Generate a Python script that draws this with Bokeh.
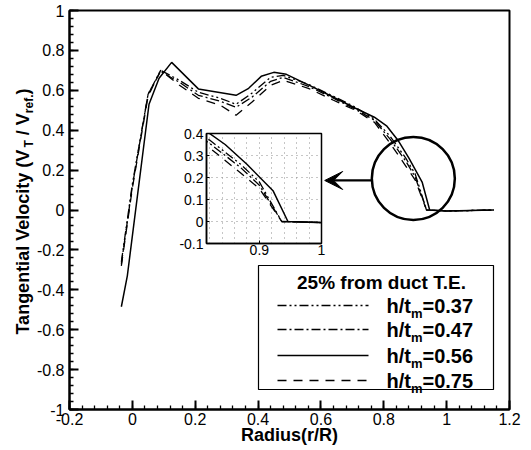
import math
from bokeh.plotting import figure
from bokeh.models import (FixedTicker, Label, Arrow, VeeHead, BoxAnnotation,
                          GridBox, Range1d)
from bokeh.embed import file_html
from bokeh.resources import INLINE

FONT = "Liberation Sans"
W, H = 531, 450

# Radial stations (r/R) and tangential velocity (V_T / V_ref.) 25% from duct T.E.
r_056 = [-0.035, -0.016, 0.053, 0.085, 0.125, 0.21, 0.33, 0.37, 0.41, 0.45, 0.49,
         0.57, 0.64, 0.71, 0.77, 0.81, 0.845, 0.88, 0.922, 0.946, 1.0, 1.15]
vt_056 = [-0.485, -0.33, 0.53, 0.66, 0.74, 0.607, 0.575, 0.61, 0.67, 0.69, 0.68,
          0.62, 0.565, 0.51, 0.465, 0.42, 0.35, 0.26, 0.14, 0.0, -0.005, 0.0]

r_other = [-0.035, 0.0, 0.05, 0.09, 0.15, 0.21, 0.28, 0.33, 0.38, 0.44, 0.48,
           0.56, 0.64, 0.71, 0.77, 0.82, 0.87, 0.9, 0.936, 1.0, 1.15]
vt_037 = [-0.26, 0.13, 0.58, 0.70, 0.65, 0.59, 0.56, 0.53, 0.585, 0.665, 0.675,
          0.63, 0.57, 0.515, 0.455, 0.37, 0.26, 0.18, 0.0, -0.005, 0.0]
vt_047 = [-0.27, 0.12, 0.58, 0.695, 0.64, 0.575, 0.545, 0.515, 0.565, 0.645, 0.665,
          0.62, 0.56, 0.505, 0.45, 0.355, 0.245, 0.165, 0.0, -0.005, 0.0]
vt_075 = [-0.28, 0.11, 0.57, 0.70, 0.625, 0.56, 0.525, 0.475, 0.54, 0.625, 0.65,
          0.61, 0.55, 0.50, 0.44, 0.335, 0.22, 0.15, 0.0, -0.005, 0.0]

ratio_labels = ["0.37", "0.47", "0.56", "0.75"]
legend_title = "25% from duct T.E."

x_ticks = [-0.2, 0, 0.2, 0.4, 0.6, 0.8, 1, 1.2]
x_tick_labels = ["-0.2", "0", "0.2", "0.4", "0.6", "0.8", "1", "1.2"]
y_ticks = [-1, -0.8, -0.6, -0.4, -0.2, 0, 0.2, 0.4, 0.6, 0.8, 1]
y_tick_labels = ["-1", "-0.8", "-0.6", "-0.4", "-0.2", "0", "0.2", "0.4", "0.6", "0.8", "1"]
inset_x_ticks = [0.9, 1]
inset_x_tick_labels = ["0.9", "1"]
inset_y_ticks = [-0.1, 0, 0.1, 0.2, 0.3, 0.4]
inset_y_tick_labels = ["-0.1", "0", "0.1", "0.2", "0.3", "0.4"]

# line style per series: (x, y, dash, width)
styles = [
    (r_other, vt_037, "9 3 2 3 2 3", 1.3),
    (r_other, vt_047, "9 3 2 3", 1.3),
    (r_056, vt_056, "solid", 1.5),
    (r_other, vt_075, "9 7", 1.3),
]

NBSP = "\u00a0"

# Arial/Liberation Sans Bold advance widths (per 1000 em) for placing text pieces
BOLD_W = {" ": 278, NBSP: 278, "(": 333, ")": 333, "/": 278, ".": 278, "=": 584,
          "%": 889, "A": 722, "E": 667, "R": 722, "T": 611, "V": 667,
          "a": 556, "c": 556, "d": 611, "e": 556, "f": 333, "g": 611, "h": 611,
          "i": 278, "l": 278, "m": 889, "n": 611, "o": 611, "r": 389, "s": 556,
          "t": 333, "u": 611, "y": 556}


def bold_width(s, size):
    return sum(BOLD_W.get(ch, 556) for ch in s) * size / 1000.0


def style_axis(ax, size):
    ax.axis_line_width = 2
    ax.axis_line_color = "black"
    ax.major_tick_in = 9
    ax.major_tick_out = 0
    ax.minor_tick_in = 4
    ax.minor_tick_out = 0
    ax.major_tick_line_width = 2
    ax.minor_tick_line_width = 1.3
    ax.major_label_text_font = FONT
    ax.major_label_text_font_size = size
    ax.major_label_text_color = "black"


def bold_label(fig, x, y, text, size, **kw):
    fig.add_layout(Label(x=x, y=y, text=text, text_font=FONT, text_font_size=f"{size}px",
                         text_font_style="bold", text_color="black", **kw))


# ---- main axes -------------------------------------------------------------
p = figure(width=W, height=H, x_range=Range1d(-0.2, 1.2), y_range=Range1d(-1, 1),
           output_backend="svg", toolbar_location=None, title=None, frame_align=False,
           min_border_left=69, min_border_right=22, min_border_top=10, min_border_bottom=41)
p.grid.visible = False
p.outline_line_color = "black"
p.outline_line_width = 2
p.background_fill_color = "white"
p.border_fill_color = "white"

p.xaxis.ticker = FixedTicker(ticks=x_ticks, minor_ticks=[round(-0.2 + 0.04 * i, 2) for i in range(36)])
p.xaxis.major_label_overrides = dict(zip(x_ticks, x_tick_labels))
p.yaxis.ticker = FixedTicker(ticks=y_ticks, minor_ticks=[round(-1 + 0.04 * i, 2) for i in range(51)])
p.yaxis.major_label_overrides = dict(zip(y_ticks, y_tick_labels))
style_axis(p.xaxis[0], "16px")
style_axis(p.yaxis[0], "16px")
p.xaxis.major_label_standoff = 3
p.yaxis.major_label_standoff = 5

for xs, ys, dash, lw in styles:
    p.line(xs, ys, line_color="black", line_width=lw, line_dash=dash)

# magnifier circle round the tip region and pointer to the inset
p.scatter(x=[0.894], y=[0.158], size=83, marker="circle", fill_alpha=0,
          line_color="black", line_width=2.5)
p.add_layout(Arrow(end=VeeHead(size=18, fill_color="black", line_color="black"),
                   x_start=0.763, y_start=0.148, x_end=0.612, y_end=0.148,
                   line_width=2.2, line_color="black"))

# ---- inset: blade tip region (frame placed by its borders) ----------------
ins = figure(width=W, height=H, x_range=Range1d(0.815, 1.0), y_range=Range1d(-0.1, 0.4),
             output_backend="svg", toolbar_location=None, title=None, frame_align=False,
             min_border_left=206, min_border_right=W - 321, min_border_top=133,
             min_border_bottom=H - 243)
ins.background_fill_color = "white"
ins.border_fill_alpha = 0
ins.outline_line_color = "black"
ins.outline_line_width = 1.5
ins.xaxis.ticker = FixedTicker(ticks=inset_x_ticks)
ins.xaxis.major_label_overrides = dict(zip(inset_x_ticks, inset_x_tick_labels))
ins.yaxis.ticker = FixedTicker(ticks=inset_y_ticks)
ins.yaxis.major_label_overrides = dict(zip(inset_y_ticks, inset_y_tick_labels))
for ax in (ins.xaxis[0], ins.yaxis[0]):
    style_axis(ax, "14px")
    ax.axis_line_width = 1.5
    ax.major_tick_in = 3
    ax.major_tick_line_width = 1
    ax.minor_tick_line_color = None
ins.xaxis.major_label_standoff = 1
ins.yaxis.major_label_standoff = 3
ins.xgrid.ticker = FixedTicker(ticks=[round(0.82 + 0.02 * i, 2) for i in range(9)])
ins.ygrid.ticker = FixedTicker(ticks=[round(-0.1 + 0.1 * i, 1) for i in range(6)])
ins.grid.grid_line_color = "#8c8c8c"
ins.grid.grid_line_dash = "1 4"
ins.grid.grid_line_width = 1

for xs, ys, dash, lw in styles:
    ins.line(xs, ys, line_color="black", line_width=lw, line_dash=dash)

# ---- page layer (pixel coordinates, y down): axis titles and legend -------
ov = figure(width=W, height=H, x_range=Range1d(0, W), y_range=Range1d(H, 0),
            output_backend="svg", toolbar_location=None, title=None, frame_align=False,
            x_axis_location=None, y_axis_location=None, min_border=0)
ov.grid.visible = False
ov.outline_line_color = None
ov.background_fill_alpha = 0
ov.border_fill_alpha = 0

bold_label(ov, 289, 434, "Radius(r/R)", 18, text_align="center", text_baseline="middle")

ylabel_parts = [("Tangential Velocity (V", 18, 0), ("T", 12, 6), (NBSP + "/ V", 18, 0),
                ("ref.", 12, 6), (")", 18, 0)]
total = sum(bold_width(t, s) for t, s, _ in ylabel_parts)
pos = -total / 2
for t, s, shift in ylabel_parts:
    bold_label(ov, 22, 211, t, s, x_offset=shift, y_offset=pos, angle=math.pi / 2,
               text_align="left", text_baseline="middle")
    pos += bold_width(t, s)

ov.add_layout(BoxAnnotation(left=258, right=493, top=265, bottom=389, fill_alpha=0,
                            line_color="black", line_width=1.2, line_alpha=1))
bold_label(ov, 381, 282, legend_title, 19, text_align="center", text_baseline="middle")
row_y = [305, 329, 355, 380]
for (xs, ys, dash, lw), lab, yc in zip(styles, ratio_labels, row_y):
    ov.line([277, 368], [yc, yc], line_color="black", line_width=lw, line_dash=dash)
    off = 0
    for t, s, dy in [("h/t", 20, 0), ("m", 13, -8), ("=" + lab, 20, 0)]:
        bold_label(ov, 386, yc, t, s, x_offset=off, y_offset=dy,
                   text_align="left", text_baseline="middle")
        off += bold_width(t, s)

layout = GridBox(children=[(p, 0, 0), (ins, 0, 0), (ov, 0, 0)])
open("out.html", "w").write(file_html(layout, INLINE))
